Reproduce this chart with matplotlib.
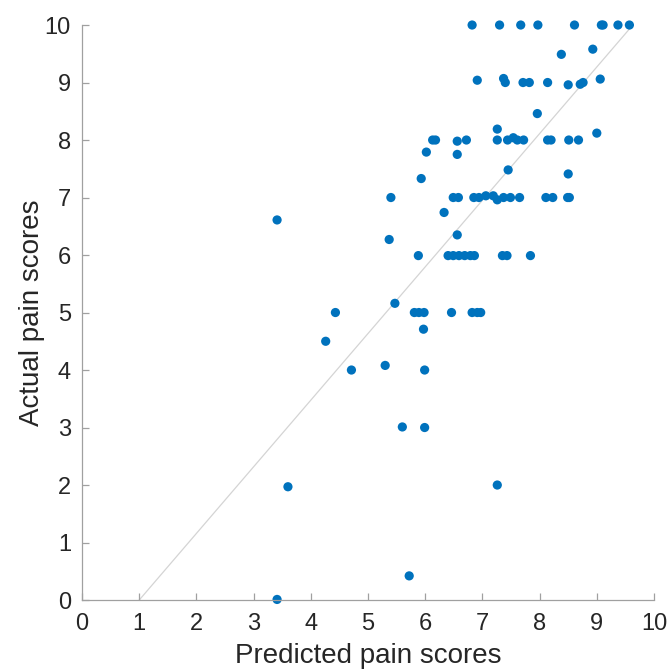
import matplotlib
matplotlib.use("Agg")
import matplotlib.pyplot as plt
import numpy as np

predicted = [
    # y = 10
    6.82, 7.30, 7.67, 7.97, 8.61, 9.08, 9.11, 9.37, 9.57,
    # ~9.5
    8.38, 8.93,
    # ~9
    6.91, 7.37, 7.40, 7.71, 7.82, 8.14, 8.50, 8.71, 8.76, 9.06,
    # ~8.5
    7.96,
    # ~8
    7.26, 6.13, 6.18, 6.56, 6.72, 7.26, 7.44, 7.54, 7.61, 7.72, 8.14, 8.20, 8.51, 8.68, 9.00,
    # ~7.8
    6.02, 6.56,
    # ~7.4
    7.45, 8.50, 5.93,
    # ~7
    5.40, 6.49, 6.58, 6.85, 6.94, 7.06, 7.19, 7.26, 7.37, 7.49, 7.65, 8.11, 8.23, 8.49, 8.52,
    # ~6.7
    6.33, 3.41,
    # ~6.3
    5.37, 6.56,
    # ~6
    5.88, 6.40, 6.49, 6.59, 6.69, 6.79, 6.86, 7.35, 7.43, 7.84,
    # ~5
    5.47, 4.43, 5.81, 5.89, 5.98, 6.46, 6.82, 6.91, 6.97,
    # lower
    5.97, 4.26, 4.71, 5.30, 5.99, 5.60, 5.99, 3.60, 7.26, 5.72, 3.41,
]
actual = [
    10, 10, 10, 10, 10, 10, 10, 10, 10,
    9.49, 9.58,
    9.04, 9.07, 9.0, 9.0, 9.0, 9.0, 8.96, 8.97, 9.0, 9.06,
    8.46,
    8.19, 8.0, 8.0, 7.98, 8.0, 8.0, 8.0, 8.04, 8.0, 8.0, 8.0, 8.0, 8.0, 8.0, 8.12,
    7.79, 7.75,
    7.48, 7.41, 7.33,
    7.0, 7.0, 7.0, 7.0, 7.0, 7.03, 7.03, 6.96, 7.0, 7.0, 7.0, 7.0, 7.0, 7.0, 7.0,
    6.74, 6.61,
    6.27, 6.35,
    5.99, 5.99, 5.99, 5.99, 5.99, 5.99, 5.99, 5.99, 5.99, 5.99,
    5.16, 5.0, 5.0, 5.0, 5.0, 5.0, 5.0, 5.0, 5.0,
    4.71, 4.50, 4.0, 4.08, 4.0, 3.01, 3.0, 1.97, 2.0, 0.42, 0.01,
]

fit_x = [1.0, 9.63]
fit_y = [0.0, 10.0]

x_ticks = list(range(0, 11))
y_ticks = list(range(0, 11))

plt.rcParams['font.family'] = ['Liberation Sans', 'DejaVu Sans']

fig = plt.figure(figsize=(6.67, 6.69), dpi=100)
ax = fig.add_axes([0.123, 0.1031, 0.8575, 0.8595])

ax.plot(fit_x, fit_y, color='#d4d4d4', lw=0.9, zorder=1)
ax.scatter(predicted, actual, s=44, color='#0072BD', edgecolors='none', zorder=2, clip_on=False)

ax.set_xlim(0, 10)
ax.set_ylim(0, 10)
ax.set_xticks(x_ticks)
ax.set_yticks(y_ticks)
for s in ['top', 'right']:
    ax.spines[s].set_visible(False)
for s in ['left', 'bottom']:
    ax.spines[s].set_color('#a0a0a0')
    ax.spines[s].set_linewidth(0.9)
ax.tick_params(direction='in', length=5, width=0.9, color='#a0a0a0',
               labelsize=17, labelcolor='#262626')
ax.tick_params(axis='x', pad=9)
ax.tick_params(axis='y', pad=8)
ax.set_xlabel('Predicted pain scores', fontsize=20, color='#262626', labelpad=6)
ax.set_ylabel('Actual pain scores', fontsize=20, color='#262626', labelpad=0)

fig.savefig('out.png', dpi=100)
